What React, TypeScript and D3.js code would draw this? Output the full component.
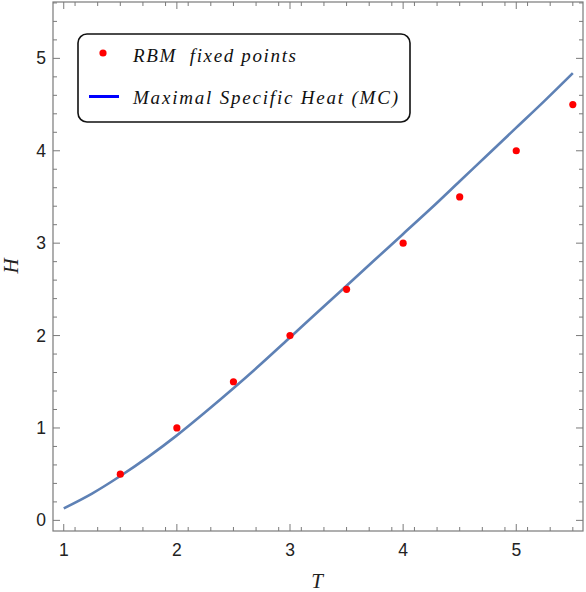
import React from "react";
import * as d3 from "d3";

const pointT = [1.5, 2, 2.5, 3, 3.5, 4, 4.5, 5, 5.5];
const pointH = [0.5, 1, 1.5, 2, 2.5, 3, 3.5, 4, 4.5];

const curveT = [1, 1.25, 1.5, 1.75, 2, 2.25, 2.5, 2.75, 3, 3.25, 3.5, 3.75, 4, 4.25, 4.5, 4.75, 5, 5.25, 5.5];
const curveH = [0.13, 0.29, 0.48, 0.69, 0.92, 1.17, 1.43, 1.7, 1.98, 2.26, 2.54, 2.82, 3.1, 3.38, 3.67, 3.96, 4.25, 4.54, 4.84];

const xTicks = [1, 2, 3, 4, 5];
const yTicks = [0, 1, 2, 3, 4, 5];
const legendLabels = ["RBM  fixed points", "Maximal Specific Heat (MC)"];

export default function App() {
  const W = 586, H = 592;
  const x = d3.scaleLinear().domain([0.905, 5.59]).range([53, 583]);
  const y = d3.scaleLinear().domain([-0.115, 5.61]).range([531, 2]);
  const [x0, x1] = x.range();
  const [y0, y1] = y.range();
  const frame = "#7a7a7a";
  const xMinor = d3.range(0.9, 5.6, 0.2).map(v => +v.toFixed(2)).filter(v => v >= 0.905 && v <= 5.59 && !xTicks.some(t => Math.abs(t - v) < 1e-6));
  const yMinor = d3.range(-0.2, 5.7, 0.2).map(v => +v.toFixed(2)).filter(v => v >= -0.115 && v <= 5.61 && !yTicks.some(t => Math.abs(t - v) < 1e-6));
  const line = d3.line<number>().x((d, i) => x(curveT[i])).y((d, i) => y(curveH[i])).curve(d3.curveMonotoneX);
  const majL = 7, minL = 4;
  return (
    <svg width={W} height={H} style={{ position: "absolute", left: 0, top: 0, background: "#fff" }}>
      <path d={line(curveH) || ""} fill="none" stroke="#5E81B5" strokeWidth={2.6} />
      {pointT.map((t, i) => (
        <circle key={i} cx={x(t)} cy={y(pointH[i])} r={3.6} fill="#ff0000" />
      ))}
      <rect x={x0} y={y1} width={x1 - x0} height={y0 - y1} fill="none" stroke={frame} strokeWidth={1.2} />
      {xTicks.map(t => (
        <g key={"xt" + t}>
          <line x1={x(t)} x2={x(t)} y1={y0} y2={y0 - majL} stroke={frame} />
          <line x1={x(t)} x2={x(t)} y1={y1} y2={y1 + majL} stroke={frame} />
          <text x={x(t)} y={556} textAnchor="middle" fontFamily="Liberation Sans, Arial, sans-serif" fontSize={17.5} fill="#222">{t}</text>
        </g>
      ))}
      {xMinor.map(t => (
        <g key={"xm" + t}>
          <line x1={x(t)} x2={x(t)} y1={y0} y2={y0 - minL} stroke={frame} />
          <line x1={x(t)} x2={x(t)} y1={y1} y2={y1 + minL} stroke={frame} />
        </g>
      ))}
      {yTicks.map(t => (
        <g key={"yt" + t}>
          <line x1={x0} x2={x0 + majL} y1={y(t)} y2={y(t)} stroke={frame} />
          <line x1={x1} x2={x1 - majL} y1={y(t)} y2={y(t)} stroke={frame} />
          <text x={46} y={y(t) + 6} textAnchor="end" fontFamily="Liberation Sans, Arial, sans-serif" fontSize={17.5} fill="#222">{t}</text>
        </g>
      ))}
      {yMinor.map(t => (
        <g key={"ym" + t}>
          <line x1={x0} x2={x0 + minL} y1={y(t)} y2={y(t)} stroke={frame} />
          <line x1={x1} x2={x1 - minL} y1={y(t)} y2={y(t)} stroke={frame} />
        </g>
      ))}
      <text x={317} y={588} textAnchor="middle" fontFamily="Liberation Serif, serif" fontStyle="italic" fontSize={21} fill="#222">T</text>
      <text transform="translate(18,266) rotate(-90)" textAnchor="middle" fontFamily="Liberation Serif, serif" fontStyle="italic" fontSize={21} fill="#222">H</text>
      <g>
        <rect x={78} y={34} width={332} height={88} rx={9} ry={9} fill="#fff" stroke="#111" strokeWidth={1.6} />
        <circle cx={103} cy={53} r={3.6} fill="#ff0000" />
        <line x1={89} x2={119} y1={96.5} y2={96.5} stroke="#0000ff" strokeWidth={3} />
        <text x={133} y={62} fontFamily="Liberation Serif, serif" fontStyle="italic" fontSize={19} fill="#111" textLength={163} lengthAdjust="spacing" style={{ whiteSpace: "pre" }}>{legendLabels[0]}</text>
        <text x={133} y={104} fontFamily="Liberation Serif, serif" fontStyle="italic" fontSize={19} fill="#111" textLength={265} lengthAdjust="spacing" style={{ whiteSpace: "pre" }}>{legendLabels[1]}</text>
      </g>
    </svg>
  );
}
